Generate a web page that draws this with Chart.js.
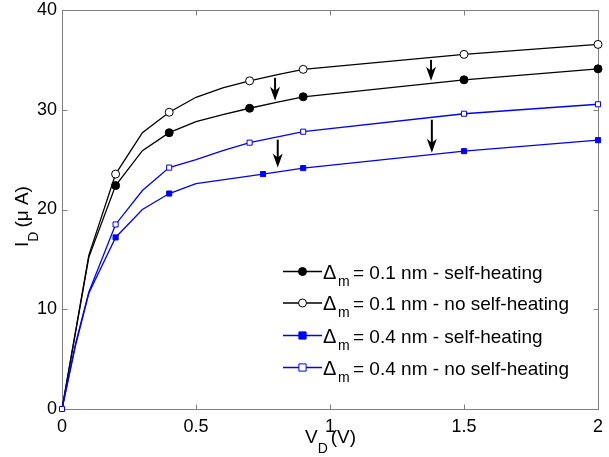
<!DOCTYPE html>
<html>
<head>
<meta charset="utf-8">
<script src="https://cdn.jsdelivr.net/npm/chart.js@4.4.1/dist/chart.umd.min.js"></script>
<style>
  html, body { margin: 0; padding: 0; background: #fff; }
  #wrap { width: 609px; height: 457px; position: relative; }
</style>
</head>
<body>
<div id="wrap"><canvas id="chart"></canvas></div>
<script>
// drain voltage points (V) and drain current (uA)
const vdA = [0, 0.1, 0.2, 0.3, 0.4, 0.5, 0.6, 0.7, 0.8, 0.9, 1.5, 2];
const idSelfHeat01 = [0, 15.2, 22.4, 25.9, 27.7, 28.8, 29.5, 30.15, 30.75, 31.3, 33.0, 34.1];
const idNoHeat01 = [0, 15.4, 23.55, 27.7, 29.75, 31.25, 32.2, 32.9, 33.5, 34.05, 35.55, 36.55];

const vdB = [0, 0.05, 0.1, 0.2, 0.3, 0.4, 0.5, 0.6, 0.7, 0.8, 0.9, 1.5, 2];
const idNoHeat04 = [0, 6.5, 11.7, 18.5, 21.9, 24.2, 25.0, 25.9, 26.7, 27.25, 27.8, 29.6, 30.55];

const vdC = [0, 0.05, 0.1, 0.2, 0.3, 0.4, 0.5, 0.75, 0.9, 1.5, 2];
const idSelfHeat04 = [0, 6.3, 11.6, 17.2, 20.0, 21.6, 22.6, 23.55, 24.15, 25.85, 26.95];

// where the markers sit
const markerBlack = [0.2, 0.4, 0.7, 0.9, 1.5, 2];
const markerBlueFilled = [0.2, 0.4, 0.75, 0.9, 1.5, 2];
const markerBlueOpen = [0, 0.2, 0.4, 0.7, 0.9, 1.5, 2];

const xTicks = [0, 0.5, 1, 1.5, 2];
const yTicks = [0, 10, 20, 30, 40];

// arrows: x, from y, to y (data units)
const arrowX = [0.795, 1.377, 0.805, 1.38];
const arrowFrom = [33.2, 35.0, 27.0, 29.0];
const arrowTo = [30.9, 32.9, 24.2, 25.7];

const legendText = ['= 0.1 nm - self-heating', '= 0.1 nm - no self-heating', '= 0.4 nm - self-heating', '= 0.4 nm - no self-heating'];

const BLUE = '#0000ff';
const FONT = '"Liberation Sans", Arial, sans-serif';

function pts(xs, ys) { return xs.map((x, i) => ({x: x, y: ys[i]})); }
function markerRadius(list, r) {
  return ctx => (ctx.raw && list.includes(ctx.raw.x)) ? r : 0;
}

const series = [
  {label: legendText[0], data: pts(vdA, idSelfHeat01), color: '#000', fill: '#000', style: 'circle', r: 4, marks: markerBlack},
  {label: legendText[1], data: pts(vdA, idNoHeat01), color: '#000', fill: '#fff', style: 'circle', r: 4, marks: markerBlack},
  {label: legendText[2], data: pts(vdC, idSelfHeat04), color: BLUE, fill: BLUE, style: 'rect', r: 3.6, marks: markerBlueFilled},
  {label: legendText[3], data: pts(vdB, idNoHeat04), color: BLUE, fill: '#fff', style: 'rect', r: 3.6, marks: markerBlueOpen}
];

const datasets = series.map((s, i) => ({
  label: s.label,
  data: s.data,
  borderColor: s.color,
  borderWidth: 1.3,
  backgroundColor: s.fill,
  pointStyle: s.style,
  pointBackgroundColor: s.fill,
  pointBorderColor: s.color,
  pointBorderWidth: 1,
  pointRadius: markerRadius(s.marks, s.r),
  pointHoverRadius: markerRadius(s.marks, s.r),
  tension: 0,
  clip: false,
  order: 4 - i
}));

function noPad(s) {
  s.paddingLeft = 0; s.paddingRight = 0; s.paddingTop = 0; s.paddingBottom = 0;
}

const framePlugin = {
  id: 'frame',
  beforeDatasetsDraw(chart) {
    const c = chart.ctx, a = chart.chartArea;
    const xs = chart.scales.x, ys = chart.scales.y;
    c.save();
    // box and inward ticks
    c.strokeStyle = '#7f7f7f';
    c.lineWidth = 1;
    const L = Math.round(a.left) + 0.5, R = Math.round(a.right) + 0.5;
    const T = Math.round(a.top) + 0.5, B = Math.round(a.bottom) + 0.5;
    c.strokeRect(L, T, R - L, B - T);
    c.beginPath();
    xTicks.forEach(v => {
      const x = Math.round(xs.getPixelForValue(v)) + 0.5;
      c.moveTo(x, B); c.lineTo(x, B - 5);
      c.moveTo(x, T); c.lineTo(x, T + 5);
    });
    yTicks.forEach(v => {
      const y = Math.round(ys.getPixelForValue(v)) + 0.5;
      c.moveTo(L, y); c.lineTo(L + 5, y);
      c.moveTo(R, y); c.lineTo(R - 5, y);
    });
    c.stroke();
    c.restore();
  },
  afterDatasetsDraw(chart) {
    const c = chart.ctx;
    const xs = chart.scales.x, ys = chart.scales.y;
    c.save();
    // arrows
    c.strokeStyle = '#000';
    c.fillStyle = '#000';
    c.lineWidth = 2;
    arrowX.forEach((v, i) => {
      const x = xs.getPixelForValue(v);
      const y0 = ys.getPixelForValue(arrowFrom[i]);
      const y1 = ys.getPixelForValue(arrowTo[i]);
      c.beginPath();
      c.moveTo(x, y0);
      c.lineTo(x, y1 - 8);
      c.stroke();
      c.beginPath();
      c.moveTo(x, y1);
      c.lineTo(x - 5, y1 - 14);
      c.lineTo(x, y1 - 10);
      c.lineTo(x + 5, y1 - 14);
      c.closePath();
      c.fill();
    });
    c.restore();
  },
  afterDraw(chart) {
    const c = chart.ctx;
    c.save();
    c.fillStyle = '#000';
    c.textBaseline = 'alphabetic';

    // legend
    const lx0 = 283, lx1 = 322, rowY = [271.5, 303, 335.5, 367.5];
    series.forEach((s, i) => {
      const y = rowY[i];
      c.strokeStyle = s.color;
      c.lineWidth = 1.3;
      c.beginPath();
      c.moveTo(lx0, y); c.lineTo(lx1, y);
      c.stroke();
      c.fillStyle = s.fill;
      c.lineWidth = 1;
      const mx = (lx0 + lx1) / 2;
      c.beginPath();
      if (s.style === 'circle') c.arc(mx, y, s.r, 0, Math.PI * 2);
      else c.rect(mx - s.r, y - s.r, s.r * 2, s.r * 2);
      c.fill();
      c.stroke();
      c.fillStyle = '#000';
      c.font = '20px ' + FONT;
      c.fillText('\u0394', 323, y + 7);
      c.font = '14px ' + FONT;
      c.fillText('m', 338, y + 14);
      c.font = '19px ' + FONT;
      c.fillText(s.label, 353, y + 7);
    });

    // x axis title
    c.font = '19px ' + FONT;
    let x = 305;
    c.fillText('V', x, 443);
    x += c.measureText('V').width;
    c.font = '14px ' + FONT;
    c.fillText('D', x, 453);
    x += c.measureText('D').width + 3;
    c.font = '19px ' + FONT;
    c.fillText('(V)', x, 443);

    // y axis title (rotated)
    c.translate(28, 247);
    c.rotate(-Math.PI / 2);
    c.font = '19px ' + FONT;
    let t = 0;
    c.fillText('I', t, 0);
    t += c.measureText('I').width;
    c.font = '14px ' + FONT;
    c.fillText('D', t, 10);
    t += c.measureText('D').width + 4;
    c.font = '19px ' + FONT;
    c.fillText('(\u03bc A)', t, 0);
    c.restore();
  }
};

new Chart(document.getElementById('chart'), {
  type: 'line',
  data: {datasets: datasets},
  options: {
    responsive: true,
    maintainAspectRatio: false,
    animation: false,
    layout: {padding: {top: 10, right: 11, left: 0, bottom: 0}},
    plugins: {legend: {display: false}, tooltip: {enabled: false}},
    scales: {
      x: {
        type: 'linear', min: 0, max: 2,
        afterFit: s => { s.height = 48; noPad(s); },
        afterBuildTicks: s => { s.ticks = xTicks.map(v => ({value: v})); },
        grid: {display: false, drawTicks: false},
        border: {display: false},
        ticks: {color: '#000', padding: 7, maxRotation: 0, font: {size: 18, family: FONT}, callback: v => String(v)}
      },
      y: {
        min: 0, max: 40,
        afterFit: s => { s.width = 62; noPad(s); },
        afterBuildTicks: s => { s.ticks = yTicks.map(v => ({value: v})); },
        grid: {display: false, drawTicks: false},
        border: {display: false},
        ticks: {color: '#000', padding: 5, font: {size: 18, family: FONT}, callback: v => String(v)}
      }
    }
  },
  plugins: [framePlugin]
});
</script>
</body>
</html>
